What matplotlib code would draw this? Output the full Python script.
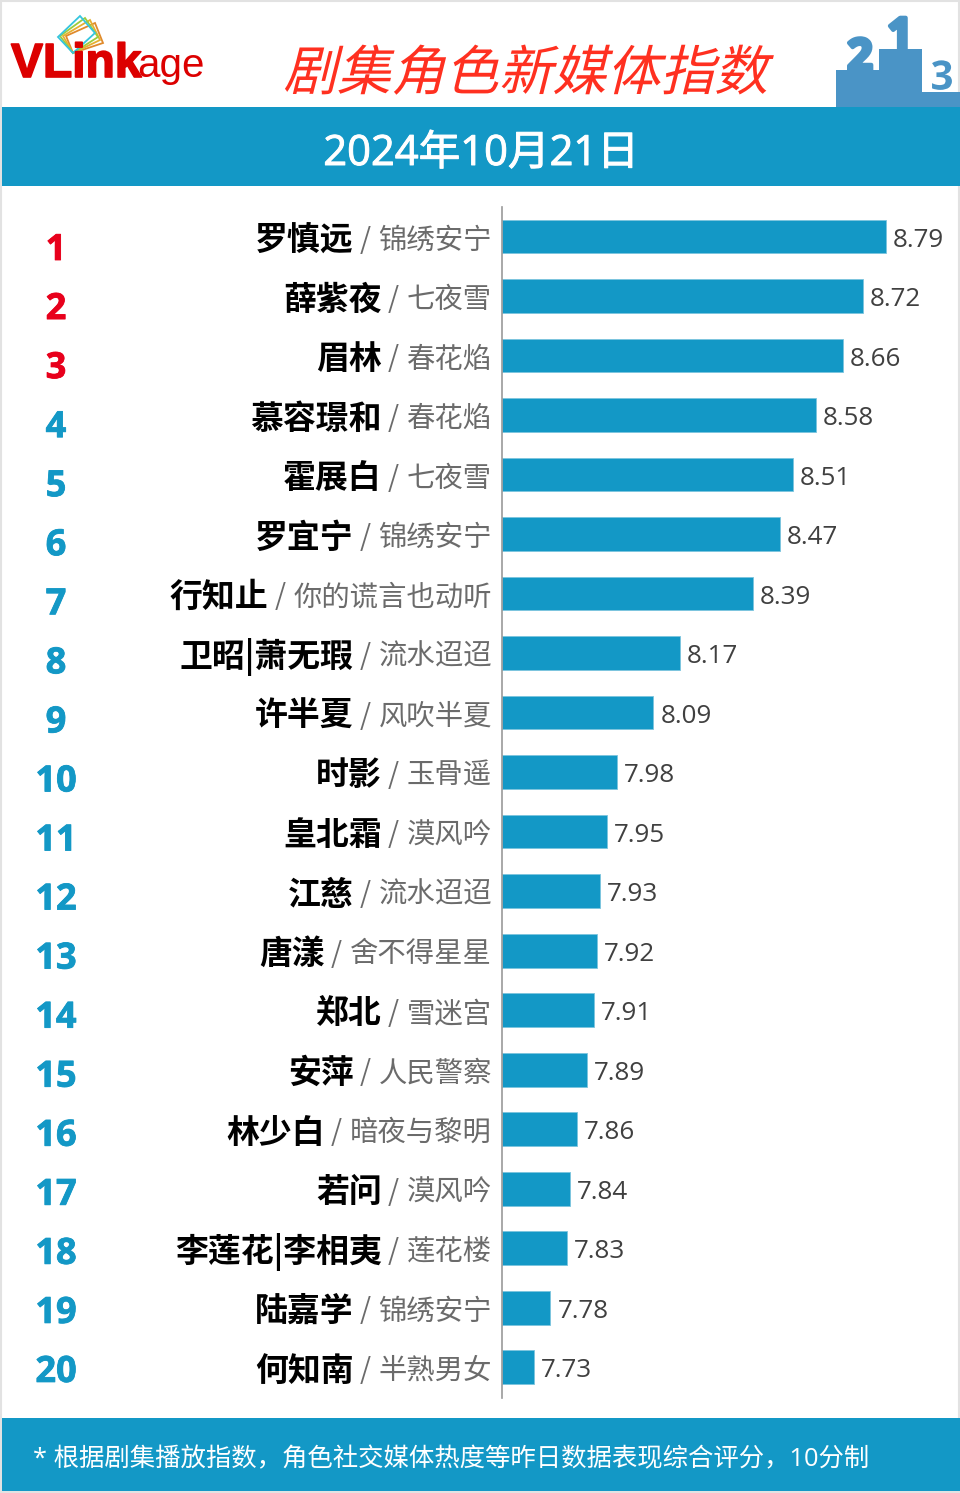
import matplotlib
matplotlib.use("Agg")
import matplotlib.pyplot as plt
import matplotlib.patches as patches
import matplotlib.patheffects as pe
from matplotlib.transforms import Affine2D

roles = ["罗慎远", "薛紫夜", "眉林", "慕容璟和", "霍展白", "罗宜宁", "行知止", "卫昭|萧无瑕", "许半夏", "时影",
         "皇北霜", "江慈", "唐漾", "郑北", "安萍", "林少白", "若问", "李莲花|李相夷", "陆嘉学", "何知南"]
shows = ["锦绣安宁", "七夜雪", "春花焰", "春花焰", "七夜雪", "锦绣安宁", "你的谎言也动听", "流水迢迢", "风吹半夏", "玉骨遥",
         "漠风吟", "流水迢迢", "舍不得星星", "雪迷宫", "人民警察", "暗夜与黎明", "漠风吟", "莲花楼", "锦绣安宁", "半熟男女"]
scores = [8.79, 8.72, 8.66, 8.58, 8.51, 8.47, 8.39, 8.17, 8.09, 7.98,
          7.95, 7.93, 7.92, 7.91, 7.89, 7.86, 7.84, 7.83, 7.78, 7.73]

title = "剧集角色新媒体指数"
date_label = "2024年10月21日"
footnote = "* 根据剧集播放指数，角色社交媒体热度等昨日数据表现综合评分，10分制"

BLUE = "#1398c6"
RED = "#e8001c"
CJK = ["Noto Sans CJK SC", "DejaVu Sans"]
LATIN = ["Open Sans", "Noto Sans CJK SC"]


# CJK fonts have no italic, so shear the glyph outlines instead
class Shear(pe.AbstractPathEffect):
    def __init__(self, degrees):
        super().__init__()
        self.degrees = degrees

    def draw_path(self, renderer, gc, tpath, affine, rgbFace=None):
        renderer.draw_path(gc, tpath, Affine2D().skew_deg(self.degrees, 0) + affine, rgbFace)


def thicken(width, color):
    return [pe.withStroke(linewidth=width, foreground=color)]


fig = plt.figure(figsize=(9.6, 14.93), dpi=100, facecolor="white")

# overlay in pixel coordinates for the banners and header
bg = fig.add_axes([0, 0, 1, 1])
bg.set_xlim(0, 960)
bg.set_ylim(1493, 0)
bg.axis("off")

bg.add_patch(patches.Rectangle((1, 1), 958, 1491, fc="none", ec="#e2e2e2", lw=1.5))
bg.add_patch(patches.Rectangle((2, 107), 958, 79, fc=BLUE, ec="none"))
bg.add_patch(patches.Rectangle((2, 1418), 958, 73, fc=BLUE, ec="none"))

# logo
logo_frames = [
    ([(66, 36), (95, 23), (103, 43), (73, 53)], "#e08a2c"),
    ([(63, 36), (90, 20), (100, 40), (73, 53)], "#e6b030"),
    ([(60, 36), (85, 18), (98, 37), (73, 53)], "#9ccc3c"),
    ([(58, 37), (80, 16), (95, 33), (73, 53)], "#35c5de"),
]
for pts, col in logo_frames:
    bg.add_patch(patches.Polygon(pts, closed=True, fc="none", ec=col, lw=1.3))
bg.text(11, 77, "VLink", family="Liberation Sans", weight="bold", size=34.5, color="#dc0000", ha="left", va="baseline",
        path_effects=thicken(1.2, "#dc0000"))
bg.text(137, 77, "age", family="Liberation Sans", size=29, color="#dc0000", ha="left", va="baseline")

# title
bg.text(283, 90, title, family=CJK, size=38.8, color="#ff3020", ha="left", va="baseline",
        path_effects=[Shear(14)])
bg.text(481, 154, date_label, family=LATIN, size=30, color="white", ha="center", va="center",
        path_effects=thicken(0.7, "white"))
bg.text(33, 1460, footnote, family=LATIN, size=18.3, color="white", ha="left", va="center")

# podium
PODIUM = "#4a94c6"
bg.add_patch(patches.Polygon([(836, 107), (836, 70), (879, 70), (879, 49), (922, 49), (922, 92), (960, 92), (960, 107)],
                             closed=True, fc=PODIUM, ec="none"))
bg.text(860, 59, "2", family="Open Sans", weight="bold", size=32, color=PODIUM, ha="center", va="center",
        path_effects=thicken(3, PODIUM))
bg.text(900, 38, "1", family="Open Sans", weight="bold", size=32, color=PODIUM, ha="center", va="center",
        path_effects=thicken(3, PODIUM))
bg.text(942, 79, "3", family="Open Sans", weight="bold", size=29, color=PODIUM, ha="center", va="center",
        path_effects=thicken(2, "white"))

# bar chart
ax = fig.add_axes([502 / 960, 1 - 1398 / 1493, 448 / 960, (1398 - 207) / 1493])
ax.patch.set_alpha(0)
base = 7.634
ax.barh(range(len(scores)), [s - base for s in scores], left=base, height=0.57,
        color=BLUE, edgecolor="#7cc4de", linewidth=0.6)
ax.set_xlim(base, base + 448 / 332)
ax.set_ylim(19.52, -0.496)
for side in ["top", "right", "bottom"]:
    ax.spines[side].set_visible(False)
ax.spines["left"].set_color("#999999")
ax.spines["left"].set_linewidth(1.2)
ax.set_xticks([])
ax.set_yticks([])

for i, s in enumerate(scores):
    ax.annotate(f"{s:.2f}", (s, i), xytext=(5, -2.7), textcoords="offset points", family="Open Sans",
                size=18.7, color="#404040", ha="left", va="center")

# labels to the left of the axis
renderer = fig.canvas.get_renderer()
for i, (role, show) in enumerate(zip(roles, shows)):
    y = 240.5 + 59.5 * i
    rank_color = RED if i < 3 else BLUE
    bg.text(56, 251 + 59.05 * i, str(i + 1), family="Open Sans", weight="bold", size=26,
            color=rank_color, ha="center", va="center",
            path_effects=thicken(0.6, rank_color))
    t = bg.text(492, y, show, family=CJK, size=20.4, color="#6b6b6b", ha="right", va="center")
    left = t.get_window_extent(renderer).x0
    s = bg.text(left - 8, y, "/", family=CJK, size=20.4, color="#6b6b6b", ha="right", va="center")
    left = s.get_window_extent(renderer).x0
    bg.text(left - 6, y, role, family=CJK, weight="bold", size=23.7, color="black", ha="right", va="center")

fig.savefig("out.png", dpi=100)
